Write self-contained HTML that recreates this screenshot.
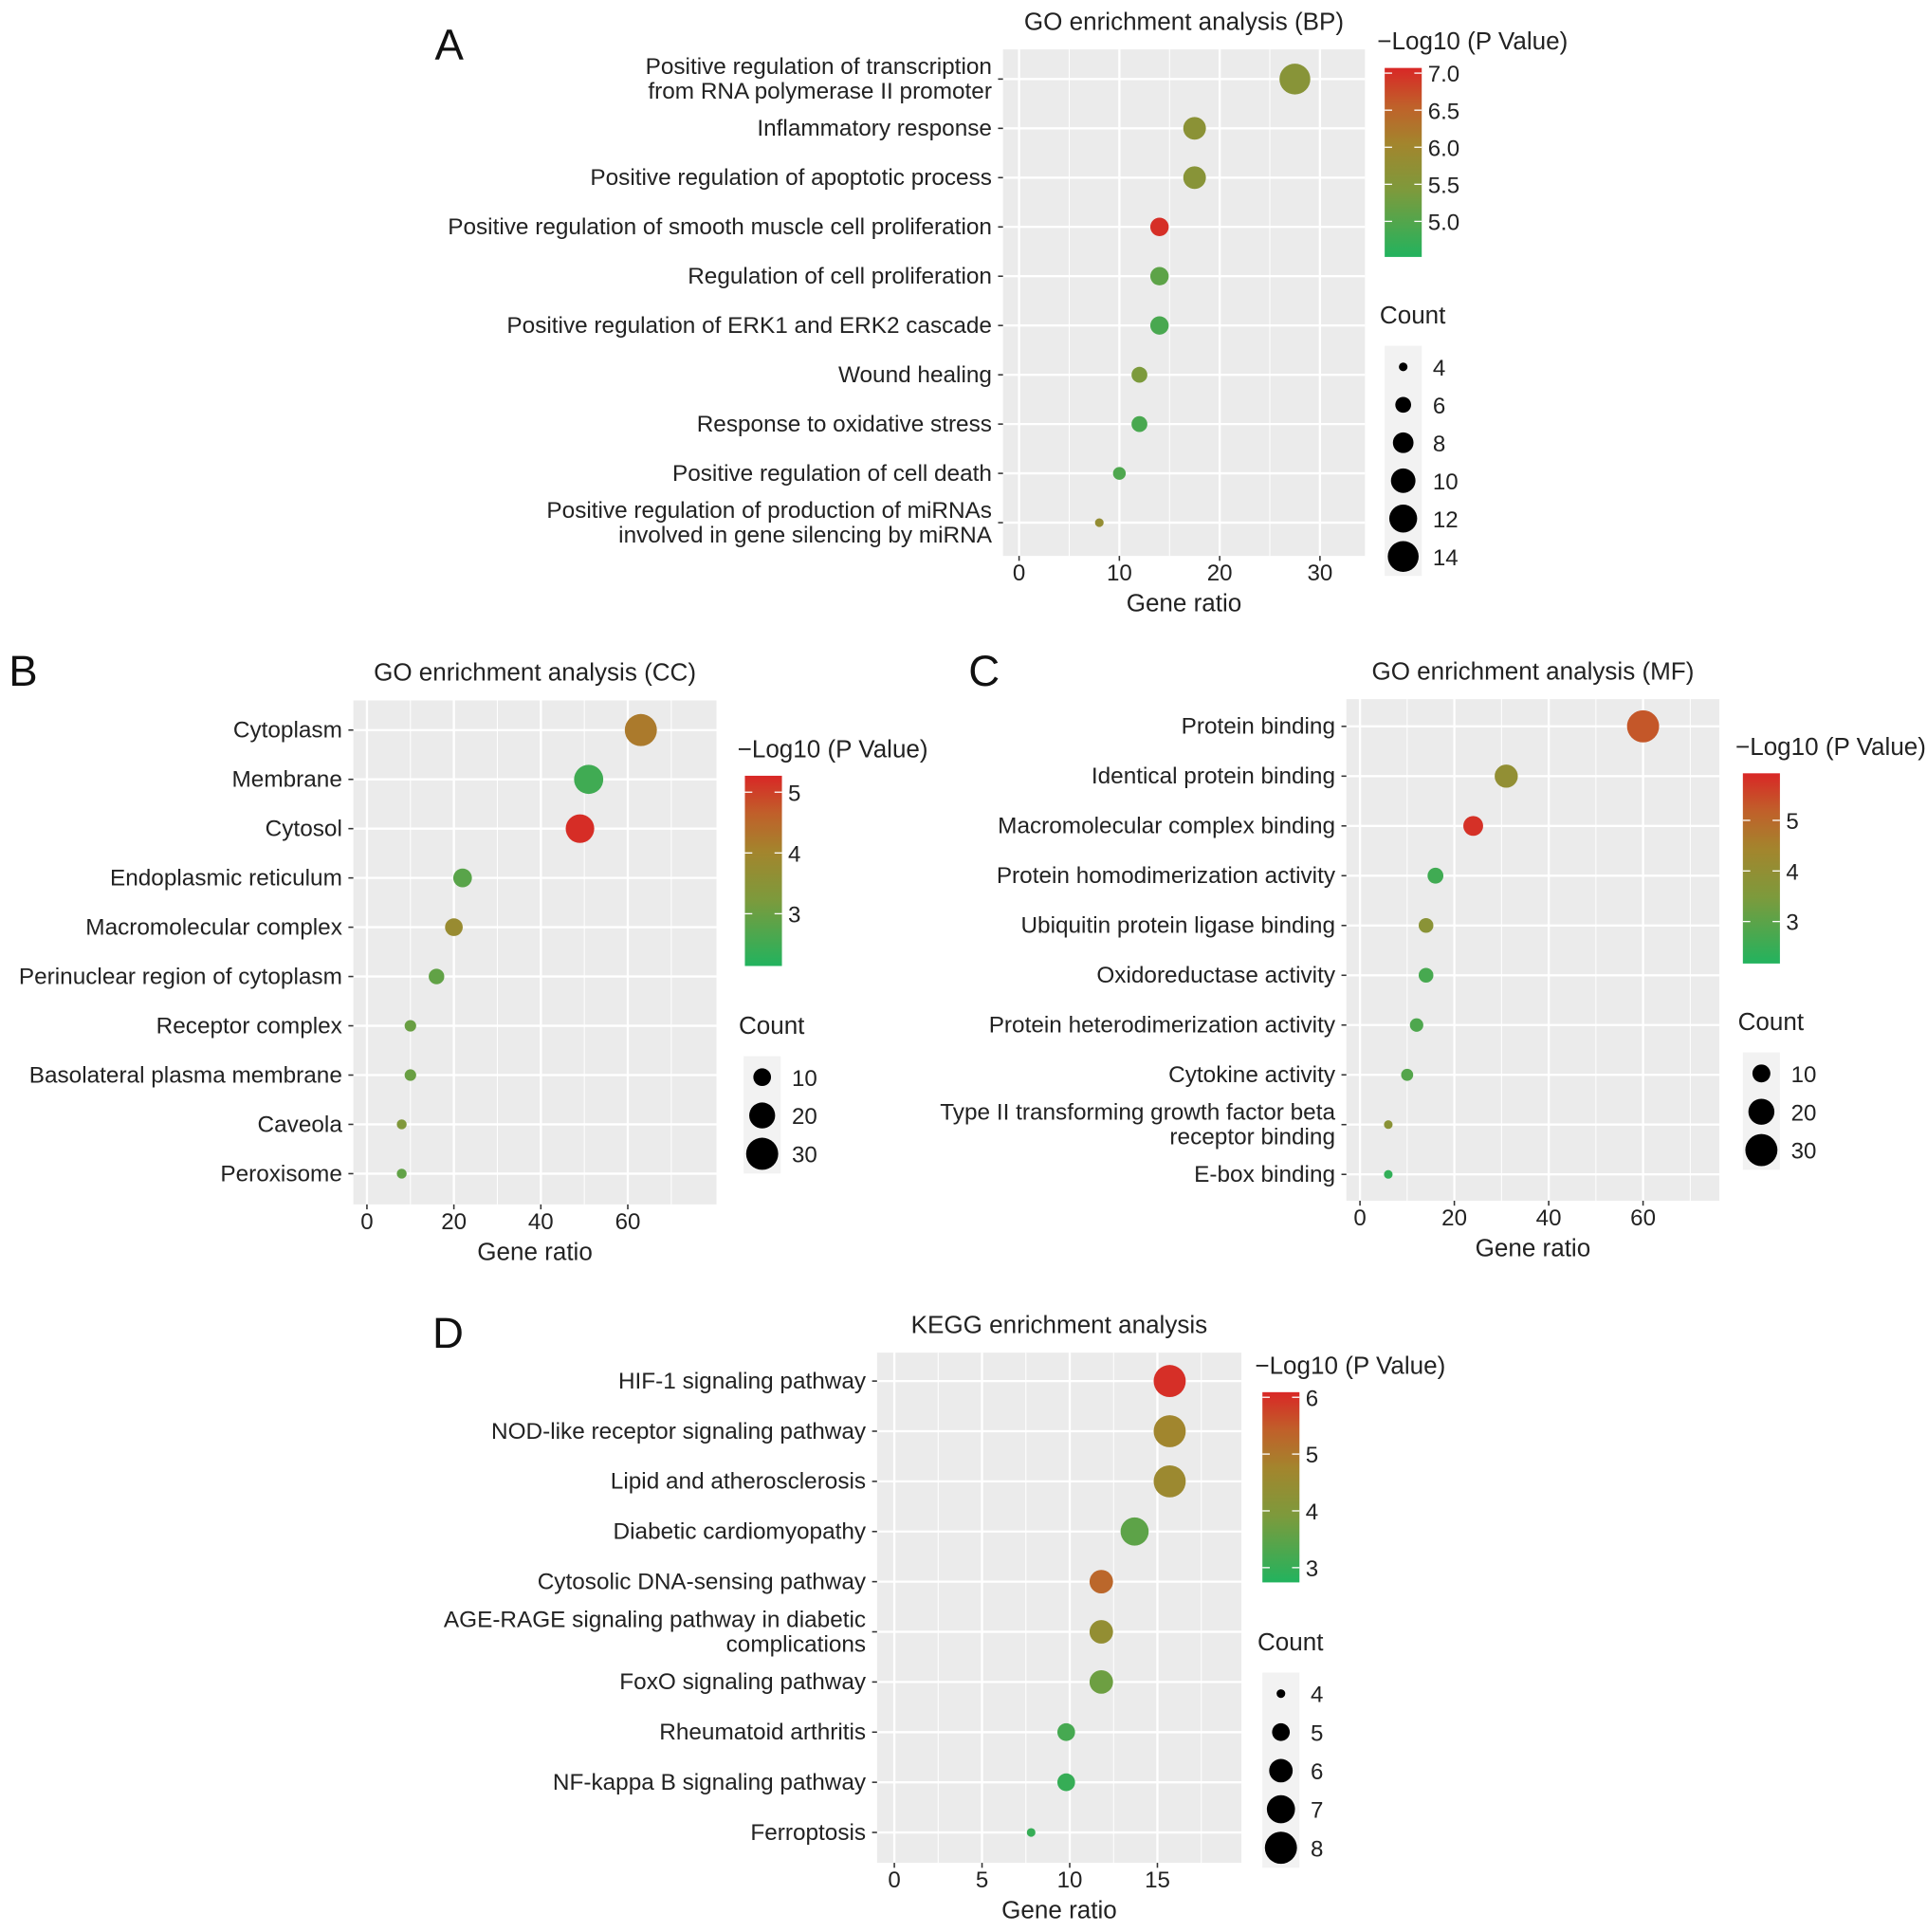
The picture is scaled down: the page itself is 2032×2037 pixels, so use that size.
<!DOCTYPE html>
<html><head><meta charset="utf-8"><style>
html,body{margin:0;padding:0;background:#fff}
svg{display:block;font-family:"Liberation Sans",sans-serif}
</style></head><body>
<svg id="fig" width="2032" height="2037" viewBox="0 0 1560 1564" xmlns="http://www.w3.org/2000/svg">
<defs>
<linearGradient id="cg" x1="0" y1="1" x2="0" y2="0">
<stop offset="0" stop-color="#22b35e"/><stop offset="0.35" stop-color="#7d9a3c"/><stop offset="0.6" stop-color="#a3852d"/><stop offset="0.8" stop-color="#c0602a"/><stop offset="1" stop-color="#d92726"/>
</linearGradient>
</defs>
</svg>
<script>
// Panel A (BP)
const bpTerms=[["Positive regulation of transcription","from RNA polymerase II promoter"],["Inflammatory response"],["Positive regulation of apoptotic process"],["Positive regulation of smooth muscle cell proliferation"],["Regulation of cell proliferation"],["Positive regulation of ERK1 and ERK2 cascade"],["Wound healing"],["Response to oxidative stress"],["Positive regulation of cell death"],["Positive regulation of production of miRNAs","involved in gene silencing by miRNA"]];
const bpRatio=[27.5,17.5,17.5,14,14,14,12,12,10,8];
const bpCount=[14,9,9,7,7,7,6,6,5,4];
const bpLogP=[5.6,5.65,5.6,7.0,5.1,4.9,5.4,4.9,4.95,5.8];
const bpXTicks=[0,10,20,30];
const bpColorTicks=["5.0","5.5","6.0","6.5","7.0"];
const bpSizeTicks=[4,6,8,10,12,14];
// Panel B (CC)
const ccTerms=[["Cytoplasm"],["Membrane"],["Cytosol"],["Endoplasmic reticulum"],["Macromolecular complex"],["Perinuclear region of cytoplasm"],["Receptor complex"],["Basolateral plasma membrane"],["Caveola"],["Peroxisome"]];
const ccRatio=[63,51,49,22,20,16,10,10,8,8];
const ccCount=[30,25,24,11,10,8,5,5,4,4];
const ccLogP=[4.2,2.5,5.2,2.8,3.8,2.9,3.0,3.0,3.3,2.9];
const ccXTicks=[0,20,40,60];
const ccColorTicks=["3","4","5"];
const ccSizeTicks=[10,20,30];
// Panel C (MF)
const mfTerms=[["Protein binding"],["Identical protein binding"],["Macromolecular complex binding"],["Protein homodimerization activity"],["Ubiquitin protein ligase binding"],["Oxidoreductase activity"],["Protein heterodimerization activity"],["Cytokine activity"],["Type II transforming growth factor beta","receptor binding"],["E-box binding"]];
const mfRatio=[60,31,24,16,14,14,12,10,6,6];
const mfCount=[30,16,12,8,7,7,6,5,3,3];
const mfLogP=[5.3,4.0,5.8,2.6,3.8,2.7,2.8,2.9,3.8,2.4];
const mfXTicks=[0,20,40,60];
const mfColorTicks=["3","4","5"];
const mfSizeTicks=[10,20,30];
// Panel D (KEGG)
const kgTerms=[["HIF-1 signaling pathway"],["NOD-like receptor signaling pathway"],["Lipid and atherosclerosis"],["Diabetic cardiomyopathy"],["Cytosolic DNA-sensing pathway"],["AGE-RAGE signaling pathway in diabetic","complications"],["FoxO signaling pathway"],["Rheumatoid arthritis"],["NF-kappa B signaling pathway"],["Ferroptosis"]];
const kgRatio=[15.7,15.7,15.7,13.7,11.8,11.8,11.8,9.8,9.8,7.8];
const kgCount=[8,8,8,7,6,6,6,5,5,4];
const kgLogP=[6.0,4.7,4.6,3.5,5.3,4.4,3.7,3.2,3.0,3.0];
const kgXTicks=[0,5,10,15];
const kgColorTicks=["3","4","5","6"];
const kgSizeTicks=[4,5,6,7,8];

const NS="http://www.w3.org/2000/svg";
const svg=document.getElementById('fig');
function mk(tag,attrs,parent,txt){const e=document.createElementNS(NS,tag);for(const k in attrs)e.setAttribute(k,attrs[k]);if(txt!==undefined)e.textContent=txt;(parent||svg).appendChild(e);return e;}
const stops=[[0,[0x22,0xb3,0x5e]],[0.35,[0x7d,0x9a,0x3c]],[0.6,[0xa3,0x85,0x2d]],[0.8,[0xc0,0x60,0x2a]],[1,[0xd9,0x27,0x26]]];
function col(t){t=Math.max(0,Math.min(1,t));for(let i=1;i<stops.length;i++){if(t<=stops[i][0]){const a=stops[i-1],b=stops[i];const f=(t-a[0])/(b[0]-a[0]);const c=a[1].map((v,j)=>Math.round(v+(b[1][j]-v)*f));return `rgb(${c})`;}}return 'rgb(217,39,38)';}

function panel(o){
  const g=mk('g',{});
  
  
  const xs=v=>o.x0px+(v)*o.pxu;
  const n=o.terms.length;
  const ys=i=>o.rowTop+i*o.rowStep;
  const bg=mk('rect',{x:o.L,y:o.T,width:o.R-o.L,height:o.B-o.T,fill:'#ebebeb'},g);
  
  
  const dmin=(o.L-o.x0px)/o.pxu,dmax=(o.R-o.x0px)/o.pxu;
  const step=o.xt[1]-o.xt[0];
  for(let v=Math.ceil(dmin/step)*step-step/2;v<dmax;v+=step){if(v<dmin)continue;mk('line',{x1:xs(v),x2:xs(v),y1:o.T,y2:o.B,stroke:'#fff','stroke-width':0.8},g);}
  o.xt.forEach(v=>{mk('line',{x1:xs(v),x2:xs(v),y1:o.T,y2:o.B,stroke:'#fff','stroke-width':1.8},g);
    mk('line',{x1:xs(v),x2:xs(v),y1:o.B,y2:o.B+4,stroke:'#333','stroke-width':1.2},g);
    const t=mk('text',{x:xs(v),y:o.B+20,'font-size':18.5,'text-anchor':'middle',fill:'#222'},g,String(v));
    
    });
  for(let i=0;i<n;i++){mk('line',{x1:o.L,x2:o.R,y1:ys(i),y2:ys(i),stroke:'#fff','stroke-width':1.8},g);
    mk('line',{x1:o.L-4,x2:o.L,y1:ys(i),y2:ys(i),stroke:'#333','stroke-width':1.2},g);
    const lines=o.terms[i];
    lines.forEach((s,k)=>{const yy=ys(i)+6+(k-(lines.length-1)/2)*20;
      const t=mk('text',{x:o.L-9,y:yy,'font-size':18.7,'text-anchor':'end',fill:'#222'},g,s);
      
      });}
  const smin=Math.min(...o.count),smax=Math.max(...o.count);
  const rad=c=>Math.sqrt(Math.max(1,o.r0*o.r0+(o.r1*o.r1-o.r0*o.r0)*(c-smin)/(smax-smin)));
  const cnorm=v=>(v-o.cmin)/(o.cmax-o.cmin);
  for(let i=0;i<n;i++){const c=mk('circle',{cx:xs(o.ratio[i]),cy:ys(i),r:rad(o.count[i]),fill:col(cnorm(o.logp[i]))},g);
    
    }
  const tt=mk('text',{x:(o.L+o.R)/2,y:o.T-16,'font-size':20,'text-anchor':'middle',fill:'#222'},g,o.title);
  
  
  const xl=mk('text',{x:(o.L+o.R)/2,y:o.B+45,'font-size':20,'text-anchor':'middle',fill:'#222'},g,'Gene ratio');
  
  
  const pl=mk('text',{x:o.lx,y:o.ly,'font-size':35,fill:'#111'},g,o.letter);
  
  
  const cb=o.cb;
  const ct=mk('text',{x:cb.x-6,y:cb.y-15,'font-size':20,fill:'#222'},g,'\u2212Log10 (P Value)');
  
  
  const bar=mk('rect',{x:cb.x,y:cb.y,width:30,height:cb.h,fill:'url(#cg)'},g);
  
  
  const cy=v=>cb.y+cb.h-(v-o.cmin)/(o.cmax-o.cmin)*cb.h;
  o.ct.forEach(s=>{const v=parseFloat(s);const y=cy(v);
    mk('line',{x1:cb.x,x2:cb.x+6,y1:y,y2:y,stroke:'#fff','stroke-width':1},g);
    mk('line',{x1:cb.x+24,x2:cb.x+30,y1:y,y2:y,stroke:'#fff','stroke-width':1},g);
    const t=mk('text',{x:cb.x+35,y:y+7,'font-size':18.5,fill:'#222'},g,s);
    
    });
  const sl=o.sl;
  const st=mk('text',{x:sl.x-4,y:sl.y,'font-size':20,fill:'#222'},g,'Count');
  
  
  mk('rect',{x:sl.x,y:sl.y+18,width:30,height:o.st.length*sl.step+2,fill:'#f2f2f2'},g);
  o.st.forEach((v,k)=>{const y=sl.y+35+k*sl.step;
    const c=mk('circle',{cx:sl.x+15,cy:y,r:rad(v),fill:'#000'},g);
    
    
    const t=mk('text',{x:sl.x+39,y:y+7,'font-size':18.5,fill:'#222'},g,String(v));
    
    });
}
panel({id:'bp',letter:'A',lx:352,ly:48,title:'GO enrichment analysis (BP)',terms:bpTerms,ratio:bpRatio,count:bpCount,logp:bpLogP,xt:bpXTicks,ct:bpColorTicks,st:bpSizeTicks,
 L:812,R:1105,T:40,B:450,x0px:825,pxu:8.12,rowTop:64,rowStep:39.9,r0:3.5,r1:12.5,cmin:4.52,cmax:7.07,cb:{x:1121,y:55,h:153},sl:{x:1121,y:262,step:30.7}});
panel({id:'cc',letter:'B',lx:7,ly:555,title:'GO enrichment analysis (CC)',terms:ccTerms,ratio:ccRatio,count:ccCount,logp:ccLogP,xt:ccXTicks,ct:ccColorTicks,st:ccSizeTicks,
 L:286,R:580,T:567,B:975,x0px:297,pxu:3.52,rowTop:591,rowStep:39.9,r0:4,r1:13,cmin:2.14,cmax:5.27,cb:{x:603,y:628,h:154},sl:{x:602,y:837,step:31}});
panel({id:'mf',letter:'C',lx:784,ly:555,title:'GO enrichment analysis (MF)',terms:mfTerms,ratio:mfRatio,count:mfCount,logp:mfLogP,xt:mfXTicks,ct:mfColorTicks,st:mfSizeTicks,
 L:1090,R:1392,T:566,B:972,x0px:1101,pxu:3.82,rowTop:588,rowStep:40.3,r0:3.5,r1:13,cmin:2.17,cmax:5.93,cb:{x:1411,y:626,h:154},sl:{x:1411,y:834,step:31}});
panel({id:'kegg',letter:'D',lx:350,ly:1091,title:'KEGG enrichment analysis',terms:kgTerms,ratio:kgRatio,count:kgCount,logp:kgLogP,xt:kgXTicks,ct:kgColorTicks,st:kgSizeTicks,
 L:710,R:1005,T:1095,B:1508,x0px:724,pxu:14.2,rowTop:1118,rowStep:40.6,r0:3.5,r1:13,cmin:2.74,cmax:6.09,cb:{x:1022,y:1127,h:154},sl:{x:1022,y:1336,step:31.2}});
</script>
</body></html>
